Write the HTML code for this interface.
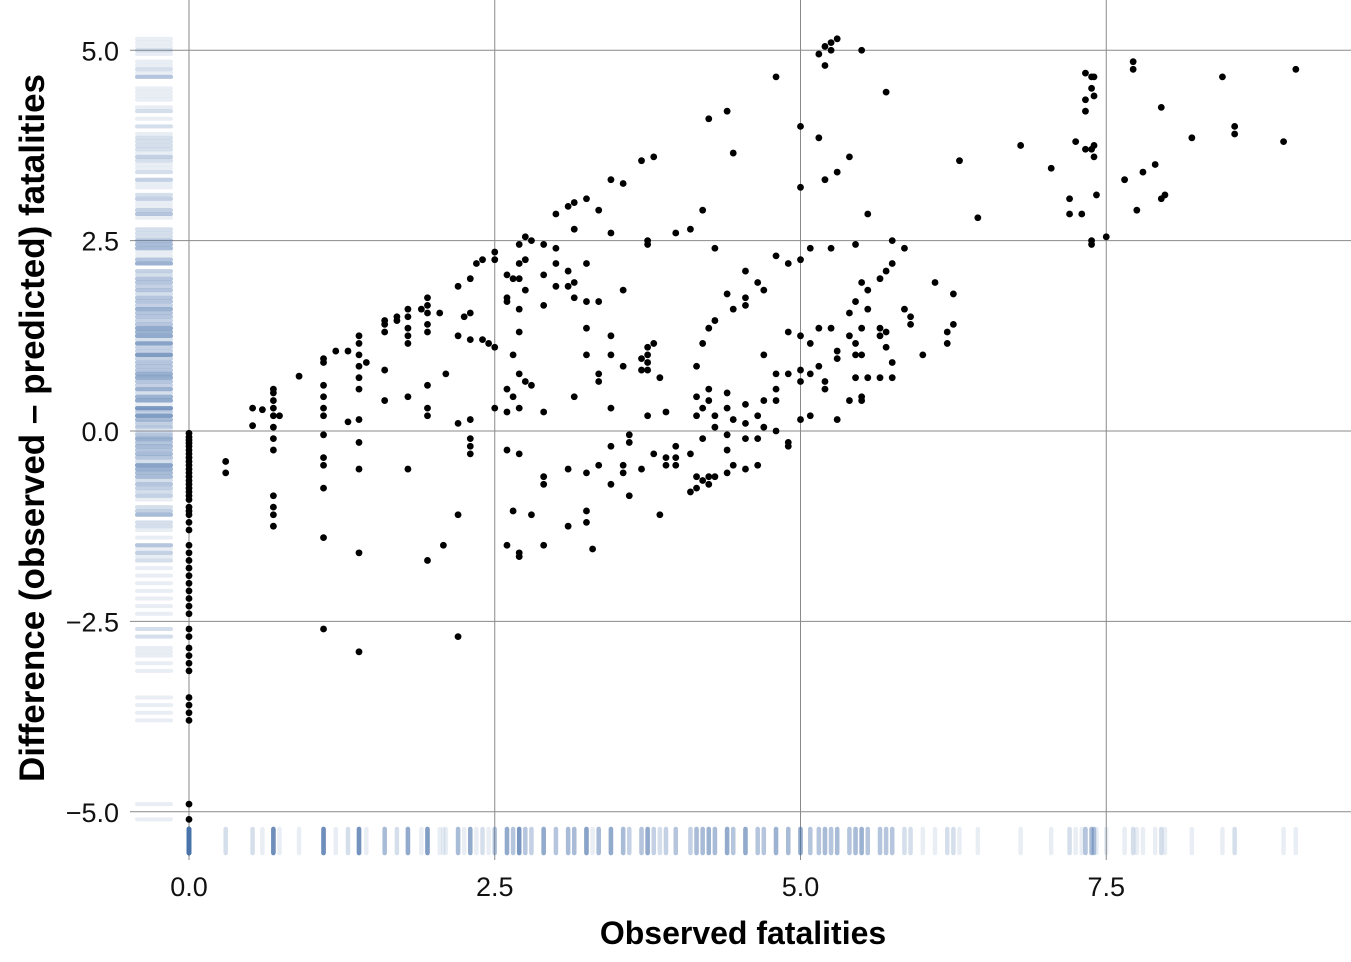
<!DOCTYPE html>
<html><head><meta charset="utf-8"><style>
body{margin:0;background:#fff;}
svg{display:block;font-family:"Liberation Sans",Arial,sans-serif;}
</style></head><body>
<svg id="chart" width="1351" height="962" viewBox="0 0 1351 962">
<g id="grid"></g>
<g id="rugy"></g>
<g id="rugx"></g>
<g id="pts"></g>
<g id="axes"></g>
<text x="743" y="944" text-anchor="middle" font-size="32" font-weight="bold">Observed fatalities</text>
<text transform="translate(44,428) rotate(-90)" text-anchor="middle" font-size="35" font-weight="bold">Difference (observed – predicted) fatalities</text>
</svg>
<script>
const xTicks=[0,2.5,5,7.5];
const xTickLabels=["0.0","2.5","5.0","7.5"];
const yTicks=[5,2.5,0,-2.5,-5];
const yTickLabels=["5.0","2.5","0.0","−2.5","−5.0"];
const zeroResiduals=[-0.03,-0.08,-0.12,-0.16,-0.2,-0.25,-0.3,-0.35,-0.4,-0.45,-0.5,-0.55,-0.6,-0.65,-0.7,-0.75,-0.8,-0.85,-0.9,-1.0,-1.05,-1.1,-1.2,-1.3,-1.5,-1.6,-1.7,-1.8,-1.9,-2.0,-2.1,-2.2,-2.3,-2.4,-2.6,-2.7,-2.85,-2.95,-3.05,-3.15,-3.5,-3.6,-3.7,-3.8,-4.9,-5.1];
const groupX=[0.3,0.52,0.6,0.69,0.74,0.9,1.1,1.2,1.3,1.39,1.45,1.6,1.7,1.79,1.9,1.95,2.05,2.1,2.08,2.2,2.25,2.3,2.35,2.4,2.45,2.5,2.6,2.65,2.7,2.75,2.8,2.65,2.8,2.9,3.0,3.1,3.15,3.25,3.3,3.35,3.45,3.55,3.6,3.7,3.75,3.8,3.85,3.9,3.98,4.1,4.15,4.2,4.25,4.3,4.4,4.45,4.55,4.65,4.7,4.8,4.9,5.0,5.08,5.15,5.2,5.25,5.3,5.4,5.45,5.5,5.55,5.65,5.7,5.75,5.85,5.9,6.0,6.1,6.2,6.25,6.3,6.45,6.8,7.05,7.2,7.25,7.3,7.33,7.38,7.4,7.42,7.5,7.65,7.72,7.75,7.8,7.9,7.95,7.98,8.2,8.45,8.55,8.95,9.05];
const groupY=[[-0.4,-0.55],[0.3,0.07],[0.28],[0.55,0.5,0.4,0.3,0.2,0.05,-0.1,-0.25,-0.85,-1.0,-1.1,-1.25],[0.2],[0.72],[0.95,0.9,0.6,0.45,0.3,0.2,-0.05,-0.35,-0.45,-0.75,-1.4,-2.6],[1.05],[1.05,0.12],[1.25,1.15,1.0,0.85,0.7,0.55,0.15,-0.15,-0.5,-1.6,-2.9],[0.9],[1.45,1.4,1.3,0.8,0.4],[1.45,1.5],[1.6,1.5,1.35,1.25,1.15,0.45,-0.5],[1.6],[1.75,1.65,1.55,1.4,1.3,0.6,0.3,0.2,-1.7],[1.55],[0.75],[-1.5],[1.9,1.25,0.1,-1.1,-2.7],[1.5],[2.0,1.55,1.2,0.15,-0.1,-0.3,-0.2],[2.2],[2.25,1.2],[1.15],[2.35,2.25,1.1,0.3],[2.05,1.75,1.7,0.55,0.25,-0.25,-1.5],[2.0,1.0,0.45],[2.45,2.2,2.0,1.6,1.3,0.75,0.3,-0.3,-1.6,-1.65],[2.55,2.25,1.85,0.65],[2.5,0.6],[-1.05],[-1.1],[2.45,2.05,1.65,0.25,-0.6,-0.7,-1.5],[2.85,2.4,2.2,1.9],[2.95,2.1,1.9,-0.5,-1.25],[3.0,2.65,1.75,1.95,0.45],[3.05,2.2,1.7,1.35,1.0,-0.55,-1.05,-1.2],[-1.55],[2.9,1.7,0.75,0.65,-0.45],[2.6,3.3,1.25,1.0,0.3,-0.2,-0.7],[3.25,1.85,0.85,-0.55,-0.45],[-0.05,-0.15,-0.85],[3.55,0.95,0.8,-0.5],[2.45,2.5,1.1,1.0,0.9,0.8,0.2],[3.6,1.15,-0.3],[0.7,-1.1],[0.25,-0.45,-0.35],[2.6,-0.2,-0.35,-0.45],[2.65,-0.3,-0.8],[0.85,0.45,0.2,-0.6,-0.75],[2.9,1.15,0.3,-0.1,-0.65],[4.1,1.35,0.55,0.4,-0.7,-0.6],[2.4,1.45,0.2,0.05,-0.6],[4.2,1.8,0.5,0.3,-0.05,-0.25,-0.55],[3.65,1.6,0.15,-0.45],[2.1,1.75,1.65,0.1,0.35,-0.1,-0.5],[1.95,0.2,-0.1,-0.45],[1.85,1.0,0.4,0.05],[4.65,2.3,0.55,0.4,0.75,0.0],[2.2,1.3,0.75,-0.15,-0.2],[4.0,3.2,2.25,1.25,0.8,0.65,0.15],[2.4,1.15,0.75,0.2],[4.95,3.85,1.35,0.85],[5.05,4.8,3.3,0.65,0.55],[5.1,5.0,2.4,1.35],[5.15,3.4,1.05,0.95,0.15],[3.6,1.55,1.25,0.4],[2.45,1.7,1.15,1.0,0.7],[5.0,1.95,1.35,1.0,0.45,0.4],[2.85,1.85,1.6,0.7],[2.0,1.35,1.25,0.7],[4.45,2.1,1.3,1.1],[2.5,2.2,0.9,0.7],[2.4,1.6],[1.4,1.5],[1.0],[1.95],[1.3,1.15],[1.8,1.4],[3.55],[2.8],[3.75],[3.45],[3.05,2.85],[3.8],[2.85],[4.7,4.35,4.2,3.7],[3.7,2.5,2.45,4.65,4.5],[3.75,4.65,4.4,3.6],[3.1],[2.55],[3.3],[4.75,4.85],[2.9],[3.4],[3.5],[4.25,3.05],[3.1],[3.85],[4.65],[3.9,4.0],[3.8],[4.75]];

const NS="http://www.w3.org/2000/svg";
const sx=v=>189+v*122.3;
const sy=v=>431-v*76.15;
function mk(tag,attrs,parent){const e=document.createElementNS(NS,tag);for(const k in attrs)e.setAttribute(k,attrs[k]);parent.appendChild(e);return e;}
const grid=document.getElementById('grid'),axes=document.getElementById('axes');
xTicks.forEach((t,i)=>{
  const l=mk('line',{x1:sx(t),x2:sx(t),y1:0,y2:860,stroke:'#8a8a8a','stroke-width':1},grid);
  
  
  const tx=mk('text',{x:sx(t),y:896,'text-anchor':'middle','font-size':27,fill:'#111'},axes);
  tx.textContent=xTickLabels[i];
  
  
});
yTicks.forEach((t,i)=>{
  const l=mk('line',{x1:130,x2:1351,y1:sy(t),y2:sy(t),stroke:'#8a8a8a','stroke-width':1},grid);
  
  
  const tx=mk('text',{x:119,y:sy(t)+10,'text-anchor':'end','font-size':27,fill:'#111'},axes);
  tx.textContent=yTickLabels[i];
  
  
});
const allX=[],allY=[];
zeroResiduals.forEach(v=>{allX.push(0);allY.push(v);});
groupX.forEach((x,i)=>groupY[i].forEach(v=>{allX.push(x);allY.push(v);}));
const rugx=document.getElementById('rugx'),rugy=document.getElementById('rugy'),pts=document.getElementById('pts');
allX.forEach(x=>{
  const r=mk('line',{x1:sx(x),x2:sx(x),y1:829,y2:853,stroke:'#4c72b0','stroke-opacity':0.12,'stroke-width':4.5,'stroke-linecap':'round'},rugx);
  
  
});
allY.forEach(y=>{
  const r=mk('line',{x1:137,x2:171,y1:sy(y),y2:sy(y),stroke:'#4c72b0','stroke-opacity':0.12,'stroke-width':4,'stroke-linecap':'round'},rugy);
  
  
});
allX.forEach((x,i)=>{
  const c=mk('circle',{cx:sx(x),cy:sy(allY[i]),r:3.4,fill:'#000'},pts);
  
  
});
</script>
</body></html>
